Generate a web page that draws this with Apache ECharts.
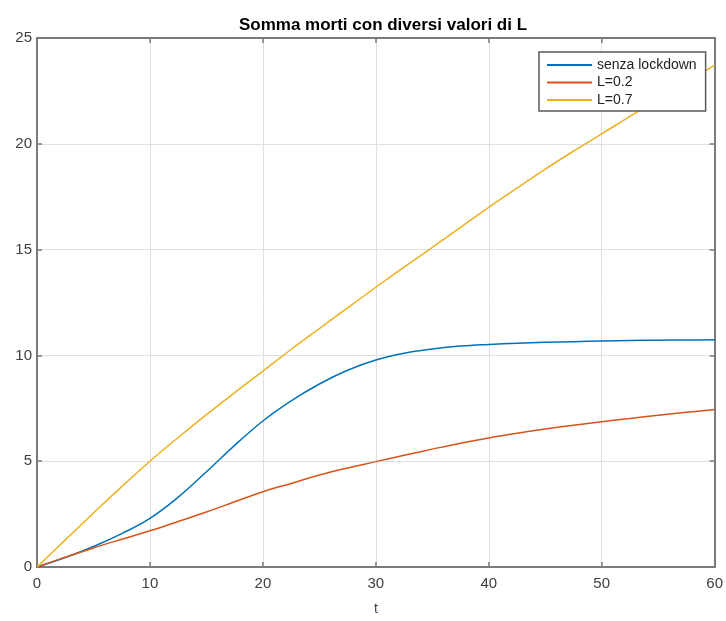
<!DOCTYPE html>
<html>
<head>
<meta charset="utf-8">
<script src="https://cdn.jsdelivr.net/npm/echarts@6/dist/echarts.min.js"></script>
<style>
  html, body { margin: 0; padding: 0; background: #fff; }
  #chart { width: 726px; height: 621px; }
</style>
</head>
<body>
<div id="chart"></div>
<script>
const tValues = [0, 2.5, 5, 7.5, 10, 12.5, 15, 17.5, 20, 22.5, 25, 27.5, 30, 32.5, 35, 37.5, 40, 42.5, 45, 47.5, 50, 52.5, 55, 57.5, 60];
const senzaLockdown = [0, 0.45, 0.97, 1.58, 2.3, 3.3, 4.5, 5.75, 6.9, 7.85, 8.65, 9.3, 9.78, 10.1, 10.3, 10.44, 10.52, 10.58, 10.62, 10.65, 10.68, 10.7, 10.72, 10.73, 10.74];
const l02 = [0, 0.46, 0.9, 1.31, 1.71, 2.15, 2.6, 3.08, 3.56, 3.95, 4.35, 4.68, 4.98, 5.28, 5.57, 5.85, 6.1, 6.32, 6.52, 6.7, 6.87, 7.02, 7.17, 7.31, 7.44];
const l07 = [0, 1.28, 2.55, 3.8, 5.0, 6.12, 7.2, 8.24, 9.26, 10.28, 11.27, 12.25, 13.22, 14.17, 15.1, 16.05, 17.0, 17.9, 18.8, 19.65, 20.47, 21.3, 22.1, 22.9, 23.72];
const seriesNames = ['senza lockdown', 'L=0.2', 'L=0.7'];
const seriesColors = ['#0072BD', '#D95319', '#EDB120'];

const font = "'Liberation Sans', Arial, Helvetica, sans-serif";
const axisColor = '#7a7a7a';
const labelColor = '#404040';

const chart = echarts.init(document.getElementById('chart'), null, { renderer: 'canvas' });

function pairs(values) {
  return tValues.map((t, i) => [t, values[i]]);
}

function lineSeries(name, values, color) {
  return {
    name,
    type: 'line',
    data: pairs(values),
    symbol: 'none',
    smooth: 0.4,
    lineStyle: { color, width: 1.5 },
    itemStyle: { color },
    z: 3,
  };
}

// top / right axes only close the box, like MATLAB's "box on"
const boxAxis = {
  axisLine: { show: true, onZero: false, lineStyle: { color: axisColor, width: 2 } },
  axisTick: { show: true, inside: true, length: 5, lineStyle: { color: axisColor, width: 1.5 } },
  axisLabel: { show: false },
  splitLine: { show: false },
};

const option = {
  animation: false,
  backgroundColor: '#fff',
  title: {
    text: 'Somma morti con diversi valori di L',
    left: 378,
    textAlign: 'center',
    top: 12,
    textStyle: { fontFamily: font, fontSize: 17, fontWeight: 'bold', color: '#000' },
  },
  grid: { left: 37, top: 38, right: 8, bottom: 45, containLabel: false },
  legend: {
    orient: 'vertical',
    left: 539,
    top: 52,
    padding: [6, 9, 4, 8],
    icon: 'rect',
    itemWidth: 45,
    itemHeight: 2,
    itemGap: 3.5,
    backgroundColor: '#fff',
    borderColor: '#5a5a5a',
    borderWidth: 1.5,
    borderRadius: 0,
    data: seriesNames,
    textStyle: { fontFamily: font, fontSize: 14, color: '#222' },
  },
  xAxis: [
    {
      type: 'value',
      min: 0,
      max: 60,
      interval: 10,
      name: 't',
      nameLocation: 'middle',
      nameGap: 35,
      nameTextStyle: { fontFamily: font, fontSize: 14, color: labelColor },
      axisLine: { show: true, onZero: false, lineStyle: { color: axisColor, width: 2 } },
      axisTick: { show: true, inside: true, length: 5, lineStyle: { color: axisColor, width: 1.5 } },
      axisLabel: { fontFamily: font, fontSize: 15, color: labelColor, margin: 9 },
      splitLine: { show: true, lineStyle: { color: '#e0e0e0', width: 1 } },
    },
    Object.assign({ type: 'value', min: 0, max: 60, interval: 10, position: 'top' }, boxAxis),
  ],
  yAxis: [
    {
      type: 'value',
      min: 0,
      max: 25,
      interval: 5,
      axisLine: { show: true, onZero: false, lineStyle: { color: axisColor, width: 2 } },
      axisTick: { show: true, inside: true, length: 5, lineStyle: { color: axisColor, width: 1.5 } },
      axisLabel: { fontFamily: font, fontSize: 15, color: labelColor, margin: 5 },
      splitLine: { show: true, lineStyle: { color: '#e0e0e0', width: 1 } },
    },
    Object.assign({ type: 'value', min: 0, max: 25, interval: 5, position: 'right' }, boxAxis),
  ],
  series: [
    lineSeries(seriesNames[0], senzaLockdown, seriesColors[0]),
    lineSeries(seriesNames[1], l02, seriesColors[1]),
    lineSeries(seriesNames[2], l07, seriesColors[2]),
  ],
};

chart.setOption(option);
</script>
</body>
</html>
